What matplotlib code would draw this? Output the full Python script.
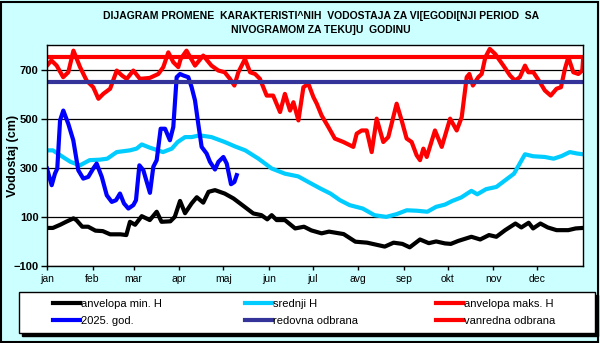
import matplotlib
matplotlib.use('Agg')
from matplotlib import pyplot as plt
from matplotlib.patches import Rectangle

plt.rcParams['font.family'] = ['Liberation Sans', 'DejaVu Sans']

months = ['jan', 'feb', 'mar', 'apr', 'maj', 'jun', 'jul', 'avg', 'sep', 'okt', 'nov', 'dec']
month_starts = [0, 31, 59, 90, 120, 151, 181, 212, 243, 273, 304, 334]

# anvelopa min. H
min_days = [0, 4, 9, 13, 18, 20, 24, 28, 33, 38, 43, 50, 54, 56.5, 60, 64.5, 70, 74.7, 78, 84,
            87, 90.6, 94, 98.5, 102, 106.4, 110, 114.4, 121, 127, 133, 140.5, 146, 150, 153,
            156.4, 162, 169, 175, 180, 187, 192, 202, 210, 218, 230, 236, 242, 247, 254, 260,
            265, 271, 275, 280, 289, 295, 301, 306, 312, 319, 323, 328, 331, 336, 341, 347,
            355, 360, 365]
min_vals = [55, 55, 68, 80, 94, 87, 60, 60, 44, 42, 29, 29, 26, 80, 68, 103, 87, 121, 80, 82,
            100, 165, 115, 155, 180, 158, 202, 209, 195, 175, 148, 114, 107, 90, 107,
            87, 87, 53, 60, 45, 33, 40, 30, -1, -5, -21, -5, -10, -24, 8, -7,
            0, -8, -10, 2, 19, 8, 26, 19, 46, 73, 57, 76, 53, 73, 57, 46,
            46, 53, 55]

# srednji H
mean_days = [0, 4, 9, 16, 22.5, 29, 36, 41, 47.5, 56.5, 61, 64.5, 70, 79, 85, 89, 94, 98.5, 104,
             112, 121, 128, 135, 144, 153, 162, 171, 178, 186, 193, 199.5, 206, 215, 223, 231,
             238, 245, 252, 259, 265, 271, 276, 282, 289, 293, 299, 306, 312, 318, 325.5, 331,
             339, 345, 350.5, 356, 361, 365]
mean_vals = [371, 371, 351, 324, 310, 331, 333, 337, 364, 371, 378, 395, 382, 364, 378, 405, 425,
             425, 432, 425, 405, 387, 371, 337, 297, 276, 265, 242, 216, 195, 168, 148, 134, 107,
             100, 111, 127, 125, 121, 141, 150, 165, 179, 206, 192, 213, 222, 249, 276, 355, 347,
             344, 337, 348, 364, 358, 355]

# anvelopa maks. H
max_days = [0, 3, 6.6, 11, 14.5, 18, 22.5, 27, 31.5, 35, 38.3, 43, 47.5, 51, 54.3, 58.8, 63.3,
            70, 75.8, 79.2, 82.6, 86, 89.4, 91, 95, 100.8, 106.4, 112, 116.7, 121, 124.6, 127.6,
            130.3, 134.8, 138.3, 141.7, 145, 149.6, 154, 158.7, 162, 165.5, 167.8, 171.2, 174.6,
            178, 181.4, 183.7, 187, 191.6, 196, 201.8, 208.6, 210.9, 214.3, 217.7, 221.1, 224.5,
            229, 232.4, 238.1, 241.5, 244.9, 248.3, 251.7, 254, 256.3, 258.6, 264.2, 268.8,
            274.5, 279, 282.4, 285.8, 287.6, 290, 293.7, 296, 298.5, 301.5, 305.1, 310.8, 315.3,
            318.7, 322, 325.5, 327.8, 331.2, 335.7, 339, 343, 347, 350, 352.7, 355, 358.4, 361.8,
            364.5, 365]
max_vals = [716, 737, 716, 669, 689, 777, 710, 655, 628, 581, 601, 622, 696, 676, 662, 696, 662,
            666, 682, 710, 770, 730, 710, 743, 777, 716, 757, 716, 696, 689, 662, 635,
            689, 743, 689, 682, 662, 594, 594, 527, 601, 533, 567, 493, 628,
            642, 588, 561, 513, 466, 419, 405, 385, 439, 452, 452, 364, 500,
            405, 425, 561, 493, 419, 405, 351, 331, 378, 344, 452, 385,
            500, 452, 506, 669, 682, 635, 669, 682, 750, 784, 764, 716, 676,
            655, 669, 716, 689, 689, 648, 615, 594, 622, 628, 703, 750, 689, 682,
            696, 737]

# 2025. god.
cur_days = [0, 1.6, 3.2, 5.4, 7, 8.9, 11.1, 14.5, 17.9, 21.3, 24.7, 28.1, 31.5, 33.8, 37.3, 40.7,
            44.1, 47, 49.7, 52.4, 55.4, 58.8, 60.6, 62.9, 65.6, 70.1, 72.4, 74.7, 77.4, 80.4,
            83.7, 86, 88.3, 90.6, 92.8, 96.2, 98.5, 100.8, 103, 105.3, 108.7, 111, 114.4, 116.7,
            120.1, 122.4, 125.3, 127.6, 129.2]
cur_vals = [297, 263, 229, 276, 297, 493, 533, 479, 412, 290, 256, 263, 297, 317, 263, 188,
            161, 168, 195, 155, 134, 148, 168, 310, 290, 198, 304, 331, 459, 459,
            412, 466, 669, 682, 676, 669, 628, 574, 479, 385, 358, 324, 293, 324,
            344, 317, 233, 242, 270]

redovna = 650
vanredna = 750

W, H = 600, 343
fig = plt.figure(figsize=(6, 3.43), dpi=100, facecolor='#ccffff')
ax = fig.add_axes([47 / W, 1 - 266 / H, 536 / W, 221 / H])
ax.set_facecolor('white')

lw = 3.0
l_min, = ax.plot(min_days, min_vals, color='black', lw=lw, solid_joinstyle='round',
                 label='anvelopa min. H')
l_mean, = ax.plot(mean_days, mean_vals, color='#00ccff', lw=lw, solid_joinstyle='round',
                  label='srednji H')
l_max, = ax.plot(max_days, max_vals, color='#ff0000', lw=lw, solid_joinstyle='round',
                 label='anvelopa maks. H')
l_cur, = ax.plot(cur_days, cur_vals, color='#0000ff', lw=lw, solid_joinstyle='round',
                 label='2025. god.')
l_red = ax.axhline(redovna, color='#333399', lw=lw, label='redovna odbrana')
l_van = ax.axhline(vanredna, color='#ff0000', lw=lw, label='vanredna odbrana')

ax.set_xlim(0, 365)
ax.set_ylim(-100, 800)
ax.set_yticks([-100, 100, 300, 500, 700])
ax.set_xticks(month_starts)
ax.set_xticklabels(months, fontsize=7.5)
for tl in ax.get_yticklabels():
    tl.set_fontweight('bold')
    tl.set_fontsize(8)
ax.tick_params(axis='y', length=4, width=1, pad=2)
ax.tick_params(axis='x', length=3, width=1, pad=3)
ax.yaxis.grid(True, color='black', lw=0.9)
ax.set_axisbelow(True)
for sp in ax.spines.values():
    sp.set_linewidth(1)
ax.set_ylabel('Vodostaj (cm)', fontsize=9, fontweight='bold')
ax.yaxis.set_label_coords(-0.052, 0.5)

fig.text(0.535, 1 - 16 / H, 'DIJAGRAM PROMENE  KARAKTERISTI^NIH  VODOSTAJA ZA VI[EGODI[NJI PERIOD  SA',
         ha='center', va='center', fontsize=7.5, fontweight='bold')
fig.text(0.535, 1 - 30 / H, 'NIVOGRAMOM ZA TEKU]U  GODINU',
         ha='center', va='center', fontsize=7.5, fontweight='bold')

# legend box with shadow
bx0, by0, bx1, by1 = 19, 292, 595, 333
fig.patches.append(Rectangle(((bx0 + 3) / W, 1 - (by1 + 3) / H), (bx1 - bx0) / W, (by1 - by0) / H,
                             transform=fig.transFigure, facecolor='black', edgecolor='black',
                             zorder=1))
fig.patches.append(Rectangle((bx0 / W, 1 - by1 / H), (bx1 - bx0) / W, (by1 - by0) / H,
                             transform=fig.transFigure, facecolor='white', edgecolor='black',
                             lw=1, zorder=2))

columns = [(53, [l_min, l_cur]), (245, [l_mean, l_red]), (436, [l_max, l_van])]
for x0, hs in columns:
    leg = fig.legend(handles=hs, labels=[h.get_label() for h in hs], loc='center left',
                     bbox_to_anchor=(x0 / W, 1 - 312.5 / H), fontsize=8, frameon=False,
                     handlelength=2.4, handletextpad=0.1, borderaxespad=0, borderpad=0,
                     labelspacing=0.6)
    leg.set_zorder(3)

fig.patches.append(Rectangle((0.002, 0.003), 0.994, 0.992, transform=fig.transFigure,
                             fill=False, edgecolor='black', lw=1.5))

fig.savefig('out.png', dpi=100, facecolor=fig.get_facecolor())
